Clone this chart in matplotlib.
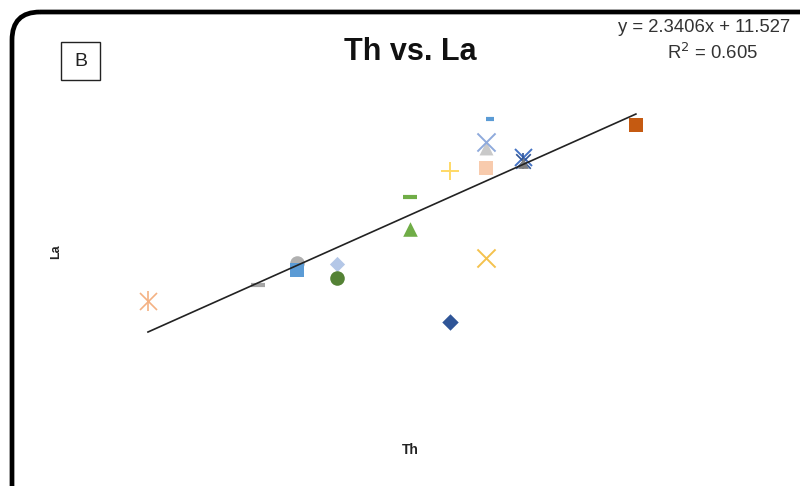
import matplotlib
matplotlib.use("Agg")
import matplotlib.pyplot as plt
from matplotlib.patches import FancyBboxPatch, Rectangle
import numpy as np

# samples (Th, La)
th = [4.0, 7.6, 8.9, 8.9, 10.2, 10.2, 12.6, 12.6, 13.9, 13.9, 15.1, 15.1, 15.1, 15.1, 15.2, 16.3, 16.3, 16.3, 20.0]
la = [26.2, 29.0, 32.8, 31.5, 32.6, 30.2, 44.1, 38.6, 22.6, 48.6, 33.6, 49.1, 52.5, 53.5, 57.5, 51.0, 50.3, 49.9, 56.5]

# trendline from the chart
slope = 2.3406
intercept = 11.527
r2 = 0.605

markers = ['ast', '_', 'o', 's', 'D', 'o', '_', '^', 'D', '+', 'x', 's', '^', 'x', '_', 'x', 'ast', '^', 's']
colors = ['#F4B183', '#A5A5A5', '#B0B0B0', '#5B9BD5', '#B4C7E7', '#548235', '#70AD47', '#70AD47',
          '#2F5597', '#FFD966', '#F4C24D', '#F8CBAD', '#C9C9C9', '#8FAADC', '#5B9BD5', '#4472C4',
          '#2F5597', '#7F7F7F', '#C55A11']
sizes = [150, 90, 110, 100, 60, 110, 110, 110, 70, 150, 170, 110, 100, 170, 40, 150, 110, 60, 100]

fig = plt.figure(figsize=(8, 4.86), dpi=100)

# background / frame layer in pixel coords
bg = fig.add_axes([0, 0, 1, 1])
bg.set_xlim(0, 800)
bg.set_ylim(486, 0)
bg.axis('off')
frame = FancyBboxPatch((12, 12), 830, 520, boxstyle="round,pad=0,rounding_size=28",
                       fill=False, ec='black', lw=3.4)
bg.add_patch(frame)
bg.add_patch(Rectangle((61, 42), 39, 38, fill=False, ec='#222222', lw=1))
bg.text(80.5, 62, 'B', ha='center', va='center', fontsize=14, family='Liberation Sans', color='#222222')
bg.text(410, 52, 'Th vs. La', ha='center', va='center', fontsize=22, fontweight='bold',
        family='Liberation Sans', color='#111111')
bg.text(618, 28, 'y = %.4fx + %.3f' % (slope, intercept), ha='left', va='center', fontsize=13.3,
        family='Liberation Sans', color='#333333')
bg.text(712, 53, 'R$^2$ = %.3f' % r2, ha='center', va='center', fontsize=13.3,
        family='Liberation Sans', color='#333333')
bg.text(56, 252, 'La', ha='center', va='center', rotation=90, fontsize=9, fontweight='bold',
        family='Liberation Sans', color='#222222')
bg.text(410, 450, 'Th', ha='center', va='center', fontsize=10, fontweight='bold',
        family='Liberation Sans', color='#222222')

# data axes
ax = fig.add_axes([70 / 800, (486 - 410) / 486, 690 / 800, 320 / 486])
ax.set_xlim(1.443, 24.07)
ax.set_ylim(7.49, 62.47)
ax.axis('off')

xs = np.array([min(th), max(th)])
ax.plot(xs, slope * xs + intercept, color='#222222', lw=1.2, zorder=3)

for x, y, m, c, s in zip(th, la, markers, colors, sizes):
    if m == 'ast':
        ax.scatter(x, y, marker='x', s=s, color=c, lw=1.2, zorder=2)
        ax.scatter(x, y, marker='|', s=s * 1.3, color=c, lw=1.2, zorder=2)
    elif m in ('_', '+', 'x'):
        ax.scatter(x, y, marker=m, s=s, color=c, lw=1.4 if m != '_' else 3, zorder=2)
    else:
        ax.scatter(x, y, marker=m, s=s, color=c, lw=0, zorder=2)

fig.savefig('out.png', dpi=100)
